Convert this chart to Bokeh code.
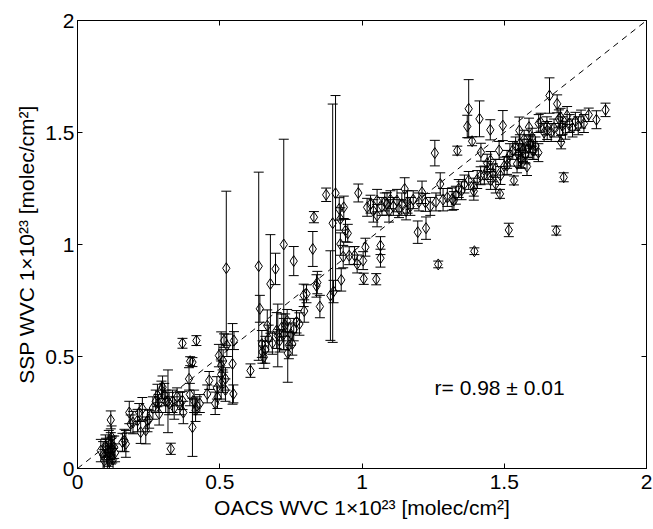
from bokeh.plotting import figure
from bokeh.models import (Whisker, TeeHead, ColumnDataSource, Slope, Label,
                          LinearAxis, FixedTicker, Range1d, NumeralTickFormatter)
from bokeh.embed import file_html
from bokeh.resources import INLINE

# ---- data (OACS WVC vs SSP WVC, 1e23 molec/cm^2) ----
low_x = [0.082, 0.090, 0.094, 0.098, 0.100, 0.105, 0.108, 0.110, 0.112, 0.115,
         0.117, 0.118, 0.120, 0.122, 0.125, 0.129, 0.132, 0.117, 0.158, 0.165,
         0.170, 0.182, 0.187, 0.195]
low_y = [0.08, 0.06, 0.035, 0.10, 0.095, 0.05, 0.07, 0.12, 0.03, 0.09,
         0.11, 0.06, 0.14, 0.085, 0.04, 0.095, 0.07, 0.217, 0.117, 0.125,
         0.11, 0.25, 0.199, 0.205]
low_e = [0.05, 0.06, 0.05, 0.05, 0.04, 0.05, 0.06, 0.05, 0.04, 0.05,
         0.05, 0.04, 0.05, 0.06, 0.05, 0.05, 0.04, 0.04, 0.04, 0.05,
         0.06, 0.05, 0.04, 0.05]

mid_x = [0.211, 0.217, 0.222, 0.228, 0.240, 0.246, 0.252, 0.265, 0.275, 0.281,
         0.285, 0.287, 0.295, 0.299, 0.305, 0.310, 0.318, 0.322, 0.328, 0.334,
         0.340, 0.350, 0.360, 0.369, 0.372, 0.369, 0.418, 0.392, 0.396, 0.404,
         0.395, 0.404, 0.410, 0.415, 0.420, 0.430, 0.456, 0.463, 0.484, 0.490,
         0.492, 0.497, 0.505, 0.505, 0.510, 0.515, 0.512, 0.520, 0.520, 0.545,
         0.548, 0.550, 0.525]
mid_y = [0.214, 0.25, 0.162, 0.267, 0.17, 0.214, 0.22, 0.27, 0.30, 0.326,
         0.29, 0.244, 0.35, 0.363, 0.33, 0.30, 0.30, 0.29, 0.088, 0.30,
         0.27, 0.32, 0.29, 0.303, 0.25, 0.559, 0.571, 0.40, 0.479, 0.475,
         0.33, 0.184, 0.30, 0.26, 0.28, 0.29, 0.333, 0.393, 0.291, 0.36,
         0.318, 0.504, 0.46, 0.42, 0.39, 0.571, 0.48, 0.40, 0.35, 0.467,
         0.333, 0.571, 0.55]
mid_e = [0.05, 0.04, 0.05, 0.05, 0.06, 0.05, 0.04, 0.05, 0.05, 0.05,
         0.04, 0.05, 0.04, 0.05, 0.05, 0.05, 0.14, 0.05, 0.025, 0.05,
         0.05, 0.04, 0.05, 0.04, 0.05, 0.022, 0.022, 0.05, 0.02, 0.02,
         0.05, 0.13, 0.05, 0.05, 0.04, 0.04, 0.04, 0.04, 0.05, 0.05,
         0.05, 0.05, 0.15, 0.06, 0.05, 0.03, 0.05, 0.05, 0.05, 0.18,
         0.04, 0.04, 0.05]

wide_x = [0.523, 0.608, 0.637, 0.641, 0.648, 0.650, 0.655, 0.660, 0.667, 0.678,
          0.672, 0.685, 0.696, 0.700, 0.704, 0.710, 0.718, 0.725, 0.725, 0.730,
          0.737, 0.739, 0.743, 0.750, 0.755, 0.760, 0.760, 0.770, 0.780, 0.795,
          0.797, 0.805, 0.827, 0.831, 0.840, 0.843, 0.852, 0.874, 0.889, 0.900,
          0.897, 0.907, 0.920, 0.927, 0.924, 0.924, 0.934, 0.936, 0.942, 0.950,
          0.955, 0.974, 0.983, 0.987]
wide_y = [0.894, 0.437, 0.903, 0.713, 0.556, 0.52, 0.497, 0.53, 0.638, 0.824,
          0.58, 0.56, 0.891, 0.616, 0.594, 0.57, 0.63, 1.0, 0.60, 0.64,
          0.66, 0.515, 0.55, 0.60, 0.556, 0.926, 0.62, 0.655, 0.645, 0.773,
          0.703, 0.78, 0.98, 1.122, 0.815, 0.83, 0.723, 1.222, 0.772, 0.79,
          1.095, 1.229, 1.159, 0.842, 1.114, 1.002, 0.946, 1.166, 1.062, 1.05,
          0.95, 0.951, 0.913, 1.23]
wide_e = [0.344, 0.03, 0.42, 0.06, 0.06, 0.05, 0.05, 0.06, 0.07, 0.22,
          0.06, 0.05, 0.07, 0.08, 0.14, 0.05, 0.06, 0.47, 0.07, 0.05,
          0.05, 0.13, 0.06, 0.05, 0.05, 0.065, 0.05, 0.05, 0.05, 0.05,
          0.05, 0.04, 0.078, 0.025, 0.05, 0.05, 0.05, 0.03, 0.2, 0.05,
          0.532, 0.436, 0.05, 0.05, 0.05, 0.05, 0.05, 0.05, 0.05, 0.04,
          0.04, 0.04, 0.04, 0.04]

high_x = [1.004, 1.006, 1.012, 1.018, 1.030, 1.040, 1.050, 1.053, 1.053, 1.065,
          1.065, 1.070, 1.080, 1.088, 1.095, 1.100, 1.110, 1.123, 1.130, 1.140,
          1.150, 1.155, 1.160, 1.170, 1.180, 1.196, 1.200, 1.211, 1.223, 1.225,
          1.240, 1.256, 1.260, 1.268, 1.275, 1.285, 1.300, 1.317, 1.323, 1.330,
          1.335, 1.340, 1.350, 1.360, 1.370, 1.375, 1.375, 1.387, 1.393, 1.395,
          1.393]
high_y = [0.928, 0.847, 0.988, 1.166, 1.18, 1.15, 0.845, 1.196, 1.129, 0.995,
          0.939, 1.17, 1.19, 1.181, 1.15, 1.20, 1.17, 1.196, 1.16, 1.18,
          1.248, 1.15, 1.19, 1.17, 1.20, 1.055, 1.19, 1.233, 1.188, 1.073,
          1.17, 1.408, 1.19, 0.911, 1.27, 1.20, 1.21, 1.203, 1.196, 1.22,
          1.419, 1.25, 1.24, 1.27, 1.527, 1.606, 1.286, 1.461, 1.256, 0.97,
          1.238]
high_e = [0.04, 0.025, 0.04, 0.04, 0.04, 0.05, 0.025, 0.05, 0.05, 0.04,
          0.04, 0.04, 0.04, 0.05, 0.05, 0.04, 0.04, 0.05, 0.04, 0.05,
          0.05, 0.04, 0.05, 0.04, 0.04, 0.05, 0.04, 0.05, 0.04, 0.05,
          0.04, 0.057, 0.04, 0.015, 0.05, 0.05, 0.04, 0.05, 0.04, 0.04,
          0.02, 0.04, 0.04, 0.04, 0.05, 0.13, 0.04, 0.02, 0.04, 0.015,
          0.04]

top_x = [1.405, 1.413, 1.417, 1.418, 1.430, 1.440, 1.440, 1.451, 1.452, 1.452,
         1.460, 1.470, 1.470, 1.482, 1.485, 1.487, 1.495, 1.500, 1.510, 1.510,
         1.516, 1.520, 1.530, 1.534, 1.540, 1.545, 1.550, 1.553, 1.555, 1.557,
         1.560, 1.565, 1.570, 1.574, 1.575, 1.580, 1.585, 1.587, 1.590, 1.592,
         1.598, 1.600, 1.604, 1.610, 1.620, 1.621, 1.628, 1.640, 1.650, 1.651,
         1.659, 1.665, 1.675, 1.683, 1.686, 1.692, 1.695, 1.698, 1.700, 1.709,
         1.705, 1.715, 1.721, 1.730, 1.740, 1.750, 1.760, 1.770, 1.780, 1.797,
         1.824, 1.856]
top_y = [1.29, 1.561, 1.307, 1.412, 1.31, 1.33, 1.363, 1.512, 1.375, 1.286,
         1.32, 1.27, 1.34, 1.42, 1.226, 1.308, 1.531, 1.35, 1.353, 1.38,
         1.065, 1.40, 1.42, 1.286, 1.44, 1.36, 1.40, 1.509, 1.45, 1.383,
         1.38, 1.42, 1.47, 1.405, 1.40, 1.348, 1.43, 1.524, 1.45, 1.449,
         1.479, 1.42, 1.42, 1.44, 1.41, 1.54, 1.546, 1.50, 1.53, 1.509,
         1.665, 1.50, 1.52, 1.062, 1.628, 1.561, 1.50, 1.568, 1.457, 1.30,
         1.53, 1.51, 1.576, 1.54, 1.52, 1.55, 1.53, 1.56, 1.54, 1.579,
         1.557, 1.601]
top_e = [0.04, 0.08, 0.04, 0.04, 0.04, 0.04, 0.04, 0.045, 0.04, 0.04,
         0.04, 0.04, 0.04, 0.04, 0.02, 0.04, 0.067, 0.04, 0.04, 0.04,
         0.03, 0.05, 0.04, 0.02, 0.04, 0.04, 0.05, 0.06, 0.04, 0.04,
         0.04, 0.05, 0.04, 0.04, 0.04, 0.04, 0.04, 0.04, 0.04, 0.04,
         0.04, 0.04, 0.04, 0.04, 0.04, 0.04, 0.04, 0.04, 0.04, 0.04,
         0.079, 0.04, 0.04, 0.02, 0.04, 0.04, 0.04, 0.04, 0.03, 0.02,
         0.04, 0.04, 0.04, 0.04, 0.04, 0.04, 0.04, 0.04, 0.04, 0.03,
         0.04, 0.03]

tick_values = [0, 0.5, 1, 1.5, 2]
axis_limits = (0, 2)
r_text = "r= 0.98 \u00b1 0.01"
r_pos = (1.255, 0.362)
x_title = "OACS WVC 1\u00d710\u00b2\u00b3 [molec/cm\u00b2]"
y_title = "SSP WVC 1\u00d710\u00b2\u00b3 [molec/cm\u00b2]"

groups = [(low_x, low_y, low_e), (mid_x, mid_y, mid_e), (wide_x, wide_y, wide_e),
          (high_x, high_y, high_e), (top_x, top_y, top_e)]
xs, ys, es = [], [], []
for gx, gy, ge in groups:
    assert len(gx) == len(gy) == len(ge)
    xs += gx
    ys += gy
    es += ge

src = ColumnDataSource(dict(
    x=xs, y=ys,
    upper=[a + b for a, b in zip(ys, es)],
    lower=[a - b for a, b in zip(ys, es)],
))

FONT = "Liberation Sans"
FS = "21px"

p = figure(width=653, height=529, x_range=Range1d(*axis_limits), y_range=Range1d(*axis_limits),
           output_backend="svg", toolbar_location=None,
           min_border_left=77, min_border_right=7, min_border_top=20, min_border_bottom=61)
p.background_fill_color = "white"
p.border_fill_color = "white"
p.outline_line_color = "black"
p.outline_line_width = 1
p.grid.visible = False

for ax in (p.xaxis[0], p.yaxis[0]):
    ax.ticker = FixedTicker(ticks=tick_values)
    ax.formatter = NumeralTickFormatter(format="0.[0]")
    ax.major_tick_in = 5
    ax.major_tick_out = 0
    ax.minor_tick_line_color = None
    ax.axis_line_color = "black"
    ax.major_tick_line_color = "black"
    ax.major_label_text_font = FONT
    ax.major_label_text_font_size = FS
    ax.major_label_text_color = "black"
    ax.axis_label_text_font = FONT
    ax.axis_label_text_font_size = FS
    ax.axis_label_text_font_style = "normal"
    ax.axis_label_text_color = "black"

p.xaxis.axis_label = x_title
p.yaxis.axis_label = y_title
p.xaxis.major_label_standoff = 6
p.yaxis.major_label_standoff = 3
p.xaxis.axis_label_standoff = 4
p.yaxis.axis_label_standoff = 4

for side in ("above", "right"):
    extra = LinearAxis(ticker=FixedTicker(ticks=tick_values),
                       major_label_overrides={t: "" for t in tick_values},
                       major_tick_in=5, major_tick_out=0, minor_tick_line_color=None,
                       axis_line_color="black", major_tick_line_color="black",
                       major_label_standoff=0)
    p.add_layout(extra, side)

p.add_layout(Slope(gradient=1, y_intercept=0, line_color="black", line_width=1, line_dash="6 5"))

p.add_layout(Whisker(source=src, base="x", upper="upper", lower="lower", dimension="height",
                     line_color="black", line_width=1,
                     upper_head=TeeHead(size=10, line_color="black", line_width=1),
                     lower_head=TeeHead(size=10, line_color="black", line_width=1)))

p.scatter("x", "y", source=src, marker="diamond", size=11, fill_color=None,
          line_color="black", line_width=1)

p.add_layout(Label(x=r_pos[0], y=r_pos[1], text=r_text, text_font=FONT, text_font_size=FS,
                   text_color="black", text_baseline="alphabetic"))

open("out.html", "w").write(file_html(p, INLINE))
